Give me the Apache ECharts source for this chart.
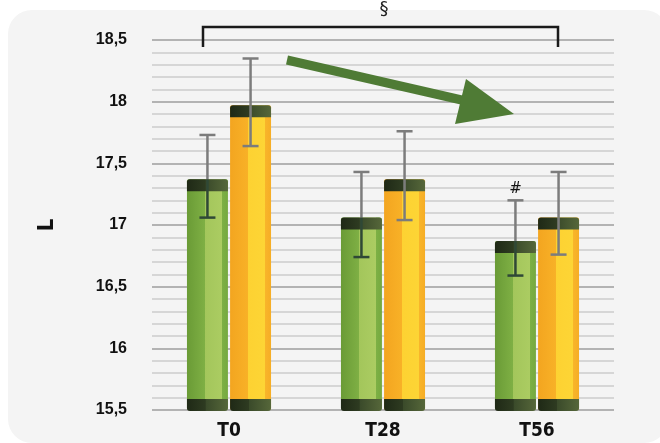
<!DOCTYPE html>
<html>
<head>
<meta charset="utf-8">
<script src="https://cdn.jsdelivr.net/npm/echarts@6/dist/echarts.min.js"></script>
<style>
html,body{margin:0;padding:0;background:#ffffff;}
#chart{width:660px;height:443px;}
</style>
</head>
<body>
<div id="chart"></div>
<script>
// ---- data ----
const categories = ['T0', 'T28', 'T56'];
const greenValues = [17.37, 17.06, 16.87];
const greenUpper  = [17.73, 17.43, 17.20];
const greenLower  = [17.06, 16.74, 16.59];
const yellowValues = [17.97, 17.37, 17.06];
const yellowUpper  = [18.35, 17.76, 17.43];
const yellowLower  = [17.64, 17.04, 16.76];
const greenMarks = ['', '', '#'];
const yTicks = [15.5, 16, 16.5, 17, 17.5, 18, 18.5];
const yMin = 15.5, yMax = 18.5;

// ---- styles ----
const greenFill = {type:'linear', x:0, y:0, x2:1, y2:0, colorStops:[
  {offset:0, color:'#6a9b36'}, {offset:0.43, color:'#7eaf44'},
  {offset:0.44, color:'#a3c65b'}, {offset:0.85, color:'#abcc62'},
  {offset:0.86, color:'#7db045'}, {offset:1, color:'#75a93f'}]};
const yellowFill = {type:'linear', x:0, y:0, x2:1, y2:0, colorStops:[
  {offset:0, color:'#f3a520'}, {offset:0.43, color:'#f8b127'},
  {offset:0.44, color:'#fdd232'}, {offset:0.85, color:'#fdd535'},
  {offset:0.86, color:'#f8b52a'}, {offset:1, color:'#f6ad25'}]};
const capFill = {type:'linear', x:0, y:0, x2:1, y2:0, colorStops:[
  {offset:0, color:'#1f2916'}, {offset:0.45, color:'#2e3b21'},
  {offset:0.46, color:'#3a4a2a'}, {offset:1, color:'#56673a'}]};

const BAR_FRAC = 0.266, OFF_FRAC = 0.14, CAP_H = 12;

function barRenderer(fill, sign) {
  return function (params, api) {
    const idx = api.value(0), val = api.value(1);
    const band = api.size([1, 0])[0];
    const bw = band * BAR_FRAC;
    const top = api.coord([idx, val]);
    const base = api.coord([idx, yMin]);
    const cx = top[0] + sign * band * OFF_FRAC;
    const x = cx - bw / 2;
    return {
      type: 'group',
      children: [
        {type:'rect', shape:{x:x, y:top[1], width:bw, height:base[1]-top[1], r:2}, style:{fill:fill}},
        {type:'rect', shape:{x:x, y:top[1], width:bw, height:CAP_H, r:[3,3,0,0]}, style:{fill:capFill}},
        {type:'rect', shape:{x:x, y:base[1]-CAP_H+1, width:bw, height:CAP_H, r:[0,0,3,3]}, style:{fill:capFill}}
      ]
    };
  };
}

function errRenderer(sign, lowerColor, marks) {
  return function (params, api) {
    const idx = api.value(0), val = api.value(1), hi = api.value(2), lo = api.value(3);
    const band = api.size([1, 0])[0];
    const cx = api.coord([idx, val])[0] + sign * band * OFF_FRAC;
    const yv = api.coord([idx, val])[1];
    const yh = api.coord([idx, hi])[1];
    const yl = api.coord([idx, lo])[1];
    const hw = 8;
    const grey = '#7c7c7c';
    const children = [
      {type:'line', shape:{x1:cx, y1:yh, x2:cx, y2:yv}, style:{stroke:grey, lineWidth:2.5}},
      {type:'line', shape:{x1:cx, y1:yv, x2:cx, y2:yl}, style:{stroke:lowerColor, lineWidth:2.5}},
      {type:'line', shape:{x1:cx-hw, y1:yh, x2:cx+hw, y2:yh}, style:{stroke:grey, lineWidth:2.5}},
      {type:'line', shape:{x1:cx-hw, y1:yl, x2:cx+hw, y2:yl}, style:{stroke:lowerColor, lineWidth:2.5}}
    ];
    const m = marks ? marks[params.dataIndex] : '';
    if (m) {
      children.push({type:'text', x:cx, y:yh-11, style:{text:m, fill:'#111', font:'15px "DejaVu Sans"', align:'center', verticalAlign:'middle'}});
    }
    return {type:'group', children: children};
  };
}

const greenData = categories.map((c, i) => [i, greenValues[i]]);
const yellowData = categories.map((c, i) => [i, yellowValues[i]]);
const greenErr = categories.map((c, i) => [i, greenValues[i], greenUpper[i], greenLower[i]]);
const yellowErr = categories.map((c, i) => [i, yellowValues[i], yellowUpper[i], yellowLower[i]]);

const chart = echarts.init(document.getElementById('chart'), null, {renderer:'canvas'});
chart.setOption({
  animation: false,
  backgroundColor: '#ffffff',
  grid: {left:152, right:46, top:40, bottom:33},
  graphic: [
    {type:'rect', z:-10, silent:true, shape:{x:8, y:10, width:660, height:433, r:24}, style:{fill:'#f4f4f4'}},
    {type:'polyline', z:10, shape:{points:[[203,47],[203,27],[558,27],[558,47]]}, style:{stroke:'#1a1a1a', lineWidth:2.5, fill:null}},
    {type:'text', z:10, x:384, y:9, style:{text:'§', fill:'#222', font:'18px "DejaVu Sans"', align:'center', verticalAlign:'middle'}},
    {type:'line', z:10, shape:{x1:287, y1:60, x2:466, y2:101}, style:{stroke:'#4f7b35', lineWidth:9}},
    {type:'polygon', z:10, shape:{points:[[466,79],[514,114],[455,124]]}, style:{fill:'#4f7b35'}}
  ],
  xAxis: {
    type: 'category',
    data: categories,
    axisLine: {show:false},
    axisTick: {show:false},
    axisLabel: {margin:12, color:'#111', fontSize:19, fontWeight:'bold', fontFamily:'"Liberation Sans Narrow", "DejaVu Sans Condensed", sans-serif'},
    splitLine: {show:false}
  },
  yAxis: {
    type: 'value',
    min: yMin, max: yMax, interval: 0.5,
    name: 'L',
    nameLocation: 'middle',
    nameGap: 94,
    nameTextStyle: {color:'#111', fontSize:22, fontWeight:'bold', fontFamily:'"Liberation Sans Narrow", "DejaVu Sans Condensed", sans-serif'},
    axisLine: {show:false},
    axisTick: {show:false},
    axisLabel: {
      margin: 25, color:'#111', fontSize:16, fontWeight:'bold',
      fontFamily:'"Liberation Sans", "DejaVu Sans", sans-serif',
      formatter: function (v) { return yTicks.indexOf(v) >= 0 ? String(v).replace('.', ',') : ''; }
    },
    splitLine: {show:true, lineStyle:{color:'#b3b3b3', width:2}},
    minorTick: {show:false, splitNumber:5},
    minorSplitLine: {show:true, lineStyle:{color:'#cbcbcb', width:1.5}}
  },
  series: [
    {type:'custom', name:'green', data:greenData, renderItem:barRenderer(greenFill, -1), z:2},
    {type:'custom', name:'yellow', data:yellowData, renderItem:barRenderer(yellowFill, 1), z:2},
    {type:'custom', name:'greenErr', data:greenErr, renderItem:errRenderer(-1, '#2f4836', greenMarks), z:5},
    {type:'custom', name:'yellowErr', data:yellowErr, renderItem:errRenderer(1, '#7c7c7c', null), z:5}
  ]
});
</script>
</body>
</html>
